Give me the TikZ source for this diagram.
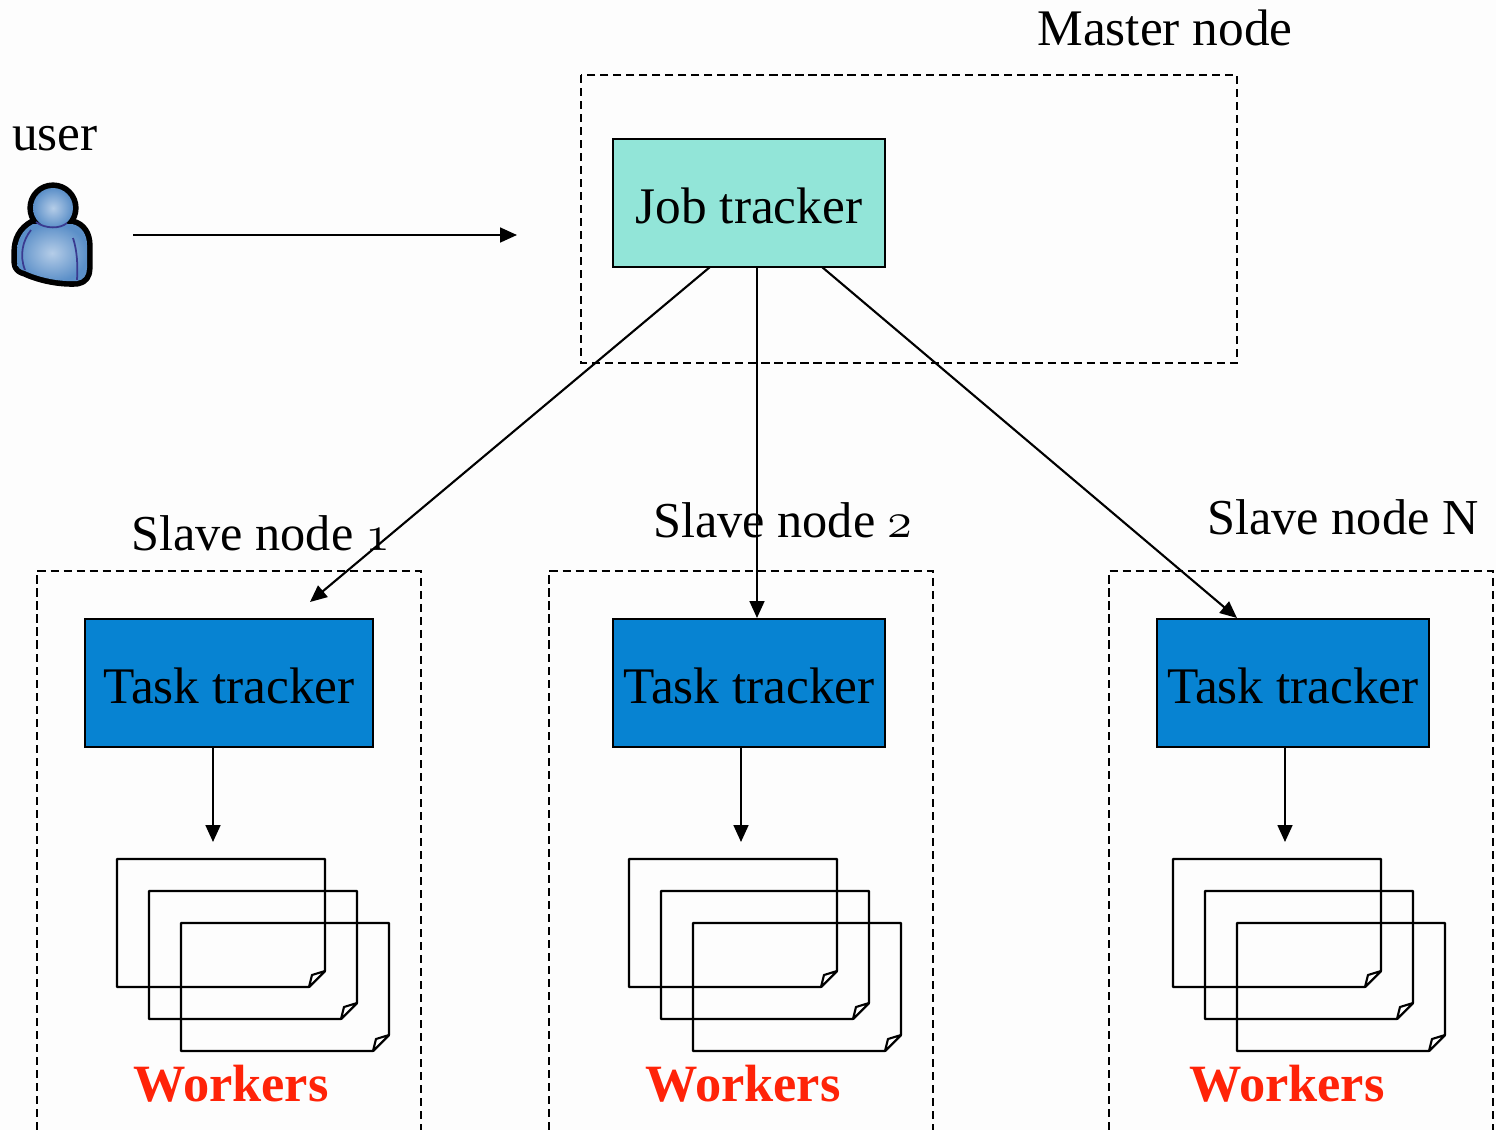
\documentclass[tikz,border=0pt]{standalone}
\usepackage{fontspec}
\setmainfont{Liberation Serif}
\usetikzlibrary{arrows.meta}
\definecolor{jobcol}{HTML}{92E5D8}
\definecolor{taskcol}{HTML}{0783D2}
\definecolor{redcol}{HTML}{FF2308}
\definecolor{usercol}{HTML}{5B8FC8}
\definecolor{userlite}{HTML}{B5CDE8}
\definecolor{userline}{HTML}{3A3A90}
\definecolor{backcol}{HTML}{FDFDFD}
\newcommand{\oldnum}[1]{{\usefont{OML}{cmm}{m}{it}#1}}
\tikzset{
  tracker/.style={draw,line width=0.6pt,minimum height=1.28cm,inner sep=0pt,text height=11.4pt,text depth=0pt,font=\fontsize{14.6}{18}\selectfont},
  label/.style={anchor=base,font=\fontsize{14.6}{18}\selectfont,inner sep=0pt},
  slavelabel/.style={anchor=base,font=\fontsize{14.3}{18}\selectfont,inner sep=0pt},
  workerlabel/.style={anchor=base,font=\fontsize{14.9}{18}\selectfont\bfseries,text=redcol,inner sep=0pt},
  nodebox/.style={dash pattern=on 2.3pt off 1.4pt,line width=0.6pt},
  conn/.style={-{Triangle[length=4.8pt,width=4.2pt]},line width=0.6pt}
}
\newcommand{\workerpage}[2]{%
  \draw[line width=0.6pt,line join=bevel] (#1,#2)--(#1+208,#2)--(#1+208,#2+112)--(#1+192,#2+128)--(#1,#2+128)--cycle;
  \draw[line width=0.6pt,line join=bevel,fill=white] (#1+192,#2+128)--(#1+195,#2+116)--(#1+208,#2+112)--cycle;
}
\begin{document}
\begin{tikzpicture}[x=0.01cm,y=-0.01cm]
\useasboundingbox (0,0) rectangle (1496,1130);
\fill[backcol] (0,0) rectangle (1496,1130);
% master
\draw[nodebox] (581,75) rectangle (1237,363);
\node[label] (master) at (1165,45) {Master node};
\node[tracker,fill=jobcol,minimum width=2.72cm] (job) at (749,203) {Job tracker};
% user
\node[label] (user) at (55,150) {user};
\draw[line width=3.2pt] (53,208) circle (20);
\draw[line width=3.2pt,line join=round]
  (33,224) .. controls (22,230) and (17,240) .. (17,252)
  -- (17,262) .. controls (17,268) and (21,270) .. (25,271)
  .. controls (40,278) and (60,282) .. (77,281)
  .. controls (84,280) and (87,275) .. (87,268)
  -- (87,245) .. controls (87,235) and (82,226) .. (72,224) -- cycle;
\fill[inner color=userlite,outer color=usercol]
  (33,224) .. controls (22,230) and (17,240) .. (17,252)
  -- (17,262) .. controls (17,268) and (21,270) .. (25,271)
  .. controls (40,278) and (60,282) .. (77,281)
  .. controls (84,280) and (87,275) .. (87,268)
  -- (87,245) .. controls (87,235) and (82,226) .. (72,224) -- cycle;
\fill[inner color=userlite,outer color=usercol] (53,208) circle (20);
\draw[line width=0.5pt,userline] (31,230) .. controls (23,240) and (19,255) .. (25,270)
  (73,238) .. controls (77,250) and (78,265) .. (77,280)
  (36,222) .. controls (45,229) and (60,229) .. (67,223);
\coordinate (userout) at (133,235);
\coordinate (userin) at (517,235);
\draw[conn] (userout)--(userin);
% slaves
\foreach \nm/\bx/\tx/\tw/\ax/\px/\wx/\lx/\ly/\lab in {
  a/37/229/2.88cm/213/117/231/261/550/{Slave node \oldnum{1}},
  b/549/749/2.72cm/741/629/743/783/537/{Slave node \oldnum{2}},
  c/1109/1293/2.72cm/1285/1173/1287/1343/534/{Slave node N}}
{
  \draw[nodebox] (\bx,1130)--(\bx,571)--(\bx+384,571)--(\bx+384,1130);
  \node[slavelabel] (lab\nm) at (\lx,\ly) {\lab};
  \node[tracker,fill=taskcol,minimum width=\tw] (task\nm) at (\tx,683) {Task tracker};
  \coordinate (taskout\nm) at (\ax,747);
  \coordinate (pagein\nm) at (\ax,842);
  \draw[conn] (taskout\nm)--(pagein\nm);
  \workerpage{\px}{859}
  \workerpage{\px+32}{891}
  \workerpage{\px+64}{923}
  \node[workerlabel] (work\nm) at (\wx,1101) {Workers};
}
% job to tasks
\coordinate (joba) at (710,267);
\coordinate (jobb) at (757,267);
\coordinate (jobc) at (822,267);
\coordinate (taska1) at (310,602);
\coordinate (taskb1) at (757,618);
\coordinate (taskc1) at (1237,618);
\draw[conn] (joba)--(taska1);
\draw[conn] (jobb)--(taskb1);
\draw[conn] (jobc)--(taskc1);
\end{tikzpicture}
\end{document}
